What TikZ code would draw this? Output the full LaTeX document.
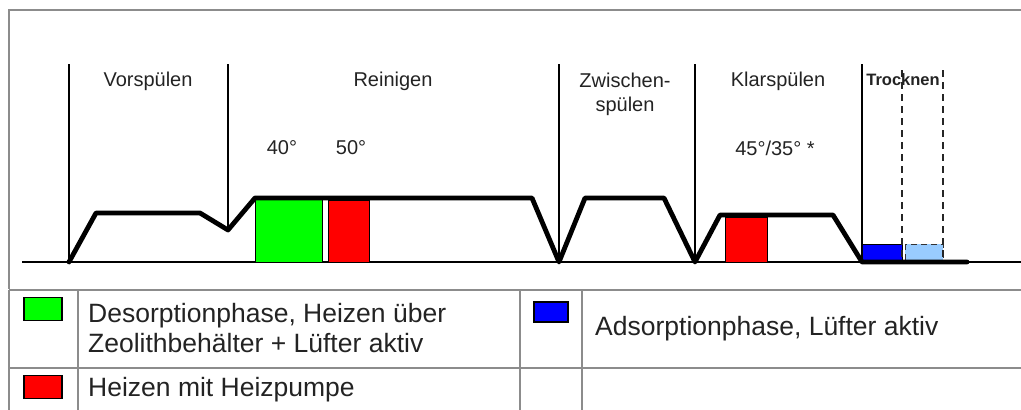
\documentclass[tikz,border=0pt]{standalone}
\usepackage{fontspec}
\setmainfont{Liberation Sans}
\definecolor{dgreen}{RGB}{0,255,0}
\definecolor{dred}{RGB}{255,0,0}
\definecolor{dblue}{RGB}{0,0,255}
\definecolor{lblue}{RGB}{153,204,255}
\definecolor{framegray}{RGB}{140,140,140}
\definecolor{txt}{RGB}{35,35,35}
\begin{document}
\begin{tikzpicture}[x=1pt,y=-1pt,
  frame/.style={draw=framegray, line width=1.6pt},
  grid/.style={draw=framegray, line width=2.4pt},
  phaseline/.style={draw=black, line width=1.1pt},
  dashline/.style={draw=black!85, line width=1.3pt, dash pattern=on 7pt off 5pt},
  curve/.style={draw=black, line width=4.8pt, line join=round, line cap=round},
  lbl/.style={font=\fontsize{20}{24}\selectfont, text=txt, inner sep=0pt},
  legtext/.style={font=\fontsize{26.5}{30}\selectfont, text=txt, inner sep=0pt, anchor=west, align=left},
  legbox/.style={draw=black, line width=1.5pt, minimum width=38pt, minimum height=23pt, inner sep=0pt}
]
\useasboundingbox (0,0) rectangle (1021,410);

% outer frame of the chart
\draw[frame] (1021,10) -- (9,10) -- (9,289);
% table
\draw[grid] (9,290) -- (1021,290);
\draw[grid] (9,368) -- (1021,368);
\draw[grid] (9,290) -- (9,410);
\draw[grid] (78,290) -- (78,410);
\draw[grid] (520,290) -- (520,410);
\draw[grid] (582,290) -- (582,410);

% axis
\coordinate (axl) at (22,262);
\coordinate (axr) at (1021,262);
\draw[draw=black, line width=1.2pt] (axl) -- (axr);

% heating boxes
\fill[dgreen] (255,198) rectangle (322,262);
\draw[black, line width=1pt] (255,198) rectangle (322,262);
\fill[dred] (328,200) rectangle (369,262);
\draw[black, line width=1pt] (328,200) rectangle (369,262);
\fill[dred] (725,217) rectangle (767,262);
\draw[black, line width=1pt] (725,217) rectangle (767,262);
\fill[dblue] (862,244) rectangle (902,262);
\draw[black, line width=1pt] (862,244) rectangle (902,262);
\fill[lblue] (905,244) rectangle (943,262);
\draw[black!80, line width=1pt, dash pattern=on 6pt off 4pt] (905,244) rectangle (943,262);

% phase separators
\draw[phaseline] (69,64) -- (69,262);
\draw[phaseline] (228,64) -- (228,230);
\draw[phaseline] (559,64) -- (559,262);
\draw[phaseline] (695,64) -- (695,262);
\draw[phaseline] (862,64) -- (862,262);
\draw[dashline] (902,70) -- (902,262);
\draw[dashline] (943,70) -- (943,262);

% temperature curve
\draw[curve] (69,262) -- (96,213) -- (200,213) -- (228,230) -- (255,198)
  -- (532,198) -- (559,262) -- (585,198) -- (664,198) -- (695,262)
  -- (720,215) -- (833,215) -- (862,262) -- (967,262);

% phase labels
\node[lbl] (vor) at (148,81) {Vorspülen};
\node[lbl] (rein) at (393,81) {Reinigen};
\node[lbl] (t40) at (282,148) {40°};
\node[lbl] (t50) at (351,148) {50°};
\node[lbl, align=center, font=\fontsize{20}{24}\selectfont] (zw) at (625,94) {Zwischen-\\spülen};
\node[lbl] (klar) at (778,81) {Klarspülen};
\node[lbl] (t45) at (775,148) {45°/35° *};
\node[lbl, font=\bfseries\fontsize{16.5}{18}\selectfont] (tro) at (903,80) {Trocknen};

% legend
\node[legbox, fill=dgreen] (lg) at (43,309) {};
\node[legtext] (lgt) at (88,328) {Desorptionphase, Heizen über\\Zeolithbehälter + Lüfter aktiv};
\node[legbox, fill=dred] (lr) at (43,387) {};
\node[legtext] (lrt) at (88,390) {Heizen mit Heizpumpe};
\node[legbox, fill=dblue, minimum width=34pt, minimum height=20pt] (lb) at (551,312) {};
\node[legtext] (lbt) at (595,329) {Adsorptionphase, Lüfter aktiv};
\end{tikzpicture}
\end{document}
